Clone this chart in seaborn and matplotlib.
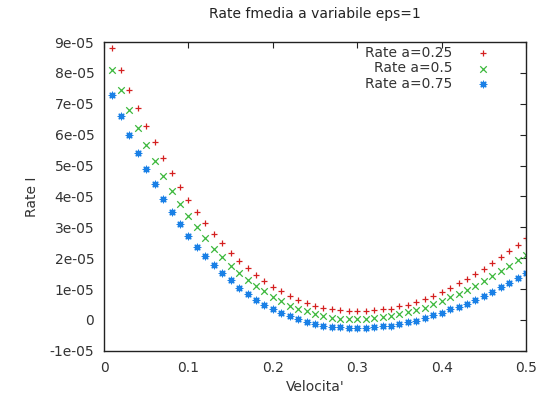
import numpy as np
import pandas as pd
import seaborn as sns
import matplotlib.pyplot as plt
from matplotlib.ticker import FuncFormatter, MultipleLocator


# velocity grid and the three rate series (values in units of 1e-05)
velocita = [round(0.01 * i, 2) for i in range(1, 51)]

rate_a025 = [8.80, 8.10, 7.46, 6.87, 6.27, 5.78, 5.24, 4.76, 4.31, 3.88,
             3.50, 3.13, 2.78, 2.48, 2.17, 1.90, 1.68, 1.46, 1.25, 1.08,
             0.93, 0.77, 0.64, 0.56, 0.45, 0.39, 0.34, 0.31, 0.30, 0.29,
             0.30, 0.31, 0.34, 0.37, 0.45, 0.50, 0.58, 0.67, 0.79, 0.92,
             1.04, 1.19, 1.32, 1.50, 1.66, 1.85, 2.03, 2.22, 2.43, 2.65]

rate_a05 = [8.10, 7.45, 6.81, 6.23, 5.68, 5.16, 4.65, 4.19, 3.76, 3.37,
            3.00, 2.65, 2.30, 2.03, 1.76, 1.51, 1.30, 1.09, 0.93, 0.76,
            0.61, 0.46, 0.35, 0.28, 0.19, 0.12, 0.07, 0.04, 0.04, 0.03,
            0.04, 0.06, 0.09, 0.12, 0.18, 0.25, 0.33, 0.39, 0.52, 0.63,
            0.74, 0.84, 0.98, 1.09, 1.25, 1.41, 1.58, 1.75, 1.93, 2.11]

rate_a075 = [7.29, 6.61, 5.98, 5.40, 4.89, 4.39, 3.91, 3.50, 3.10, 2.71,
             2.38, 2.08, 1.79, 1.53, 1.28, 1.05, 0.85, 0.66, 0.49, 0.36,
             0.24, 0.14, 0.04, -0.05, -0.12, -0.18, -0.22, -0.24, -0.25, -0.26,
             -0.25, -0.24, -0.21, -0.19, -0.14, -0.07, -0.02, 0.06, 0.15, 0.22,
             0.34, 0.41, 0.53, 0.66, 0.79, 0.92, 1.06, 1.20, 1.35, 1.51]

labels = ["Rate a=0.25", "Rate a=0.5", "Rate a=0.75"]
colors = ["#d42020", "#3cb83c", "#1a80e6"]
markers = ["+", "x", (8, 2, 0)]


sns.set_style("white")
plt.rcParams['font.family'] = ['DejaVu Sans']

fig = plt.figure(figsize=(5.39, 4.01), dpi=100)
ax = fig.add_axes([0.193, 0.125, 0.783, 0.77])

for series, lab, col, mk in zip([rate_a025, rate_a05, rate_a075], labels, colors, markers):
    df = pd.DataFrame({"v": velocita, "rate": np.array(series) * 1e-5})
    sns.scatterplot(data=df, x="v", y="rate", ax=ax, marker=mk, color=col,
                    s=22, linewidth=0.9, label=lab)

ax.set_xlim(0, 0.5)
ax.set_ylim(-1e-5, 9e-5)
ax.xaxis.set_major_locator(MultipleLocator(0.1))
ax.yaxis.set_major_locator(MultipleLocator(1e-5))
ax.xaxis.set_major_formatter(FuncFormatter(lambda v, p: f"{v:g}"))
ax.yaxis.set_major_formatter(FuncFormatter(lambda v, p: "0" if abs(v) < 1e-12 else f"{v:.0e}"))
ax.tick_params(direction="in", length=4, width=0.8, top=True, right=True,
               labelsize=10, colors="#222222", labelcolor="#333333", pad=7)
for sp in ax.spines.values():
    sp.set_color("#222222")
    sp.set_linewidth(1.0)

ax.set_xlabel("Velocita'", fontsize=10, color="#333333", labelpad=4)
ax.set_ylabel("Rate I", fontsize=10, color="#333333", labelpad=8)
ax.set_title("Rate fmedia a variabile eps=1", fontsize=10, color="#222222", pad=17)

leg = ax.legend(loc="upper right", bbox_to_anchor=(0.93, 1.01), frameon=False,
                markerfirst=False, fontsize=10, handletextpad=1.7,
                labelspacing=0.1, handlelength=1.0, borderaxespad=0.1)
for t in leg.get_texts():
    t.set_color("#333333")

fig.savefig("out.png", dpi=100)
